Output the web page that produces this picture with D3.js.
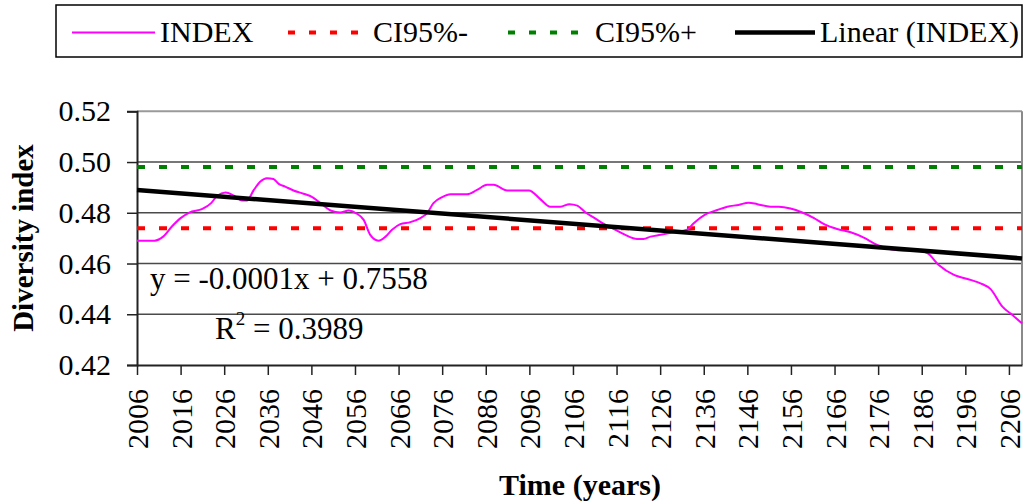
<!DOCTYPE html>
<html>
<head>
<meta charset="utf-8">
<script src="https://cdn.jsdelivr.net/npm/d3@7"></script>
</head>
<body style="margin:0;background:#fff">
<svg id="chart" width="1025" height="504" style="display:block"></svg>
<script>
// Diversity index time series (smoothed), by year
const years = [
  2006, 2010, 2012, 2014, 2016, 2018, 2021, 2023, 2024.4, 2026.3, 2028.2, 2030.1, 2031.2,
  2032.8, 2034.3, 2035.8, 2037.3, 2038.5, 2040, 2041.9, 2044.2, 2046.2, 2048.1, 2050.4,
  2052.6, 2054.6, 2056.3, 2058, 2059.5, 2061.4, 2063, 2064.5, 2066.4, 2068.7, 2071,
  2072.5, 2074, 2076, 2077.9, 2081.7, 2084, 2086.3, 2087.8, 2090.9, 2095.9, 2098.5,
  2100.8, 2103.1, 2105.2, 2107, 2108.9, 2110.8, 2113.1, 2115.4, 2118, 2120.7, 2122.2,
  2123.8, 2126.1, 2129.1, 2132.2, 2133.7, 2136.4, 2139.1, 2141.4, 2144, 2146.3, 2148.3,
  2151.3, 2153.2, 2155.9, 2158.6, 2161.3, 2163.6, 2166.6, 2169.7, 2172.7, 2175.8,
  2178.9, 2181.9, 2185, 2187.3, 2189.9, 2193.4, 2196.5, 2199.5, 2201.8, 2204.5, 2206.8, 2209
];
const indexValues = [
  0.4690, 0.4690, 0.4706, 0.4746, 0.4779, 0.4801, 0.4815, 0.4838, 0.4867, 0.4880, 0.4868, 0.4848, 0.4848,
  0.4890, 0.4923, 0.4936, 0.4933, 0.4914, 0.4903, 0.4888, 0.4875, 0.4862, 0.4838, 0.4809,
  0.4801, 0.4809, 0.4798, 0.4772, 0.4713, 0.4690, 0.4706, 0.4733, 0.4755, 0.4763, 0.4779,
  0.4798, 0.4838, 0.4862, 0.4873, 0.4873, 0.4890, 0.4910, 0.4910, 0.4888, 0.4888, 0.4854,
  0.4824, 0.4824, 0.4834, 0.4828, 0.4801, 0.4781, 0.4756, 0.4736, 0.4713, 0.4697, 0.4697,
  0.4706, 0.4713, 0.4723, 0.4733, 0.4759, 0.4794, 0.4811, 0.4824, 0.4831, 0.4840, 0.4834,
  0.4824, 0.4824, 0.4817, 0.4801, 0.4779, 0.4755, 0.4736, 0.4723, 0.4702, 0.4673,
  0.4656, 0.4651, 0.4651, 0.4641, 0.4594, 0.4555, 0.4539, 0.4522, 0.4499, 0.4430, 0.4397, 0.4364
];

// 95% confidence bounds
const ciLower = 0.4739;
const ciUpper = 0.4980;

// Linear trend of the index: y = slope * year + intercept
const trendSlope = -0.000133;
const trendIntercept = 0.7558;
const rSquared = 0.3989;

// Axes
const xDomain = [2006, 2209];
const xTicks = d3.range(2006, 2207, 10);
const yDomain = [0.42, 0.52];
const yTicks = [0.42, 0.44, 0.46, 0.48, 0.50, 0.52];

// Legend
const legendLabels = ["INDEX", "CI95%-", "CI95%+", "Linear (INDEX)"];
const legendColors = ["#ff00ff", "#ff0000", "#008000", "#000000"];

const SERIF = '"Liberation Serif", "Times New Roman", serif';
const fmt4 = d3.formatLocale({ decimal: ".", thousands: ",", grouping: [3], currency: ["", ""], minus: "-" }).format(".4f");

const svg = d3.select("#chart").style("font-family", SERIF);
const plot = { left: 137, right: 1022, top: 111.3, bottom: 365 };

const x = d3.scaleLinear().domain(xDomain).range([plot.left, plot.right]);
const y = d3.scaleLinear().domain(yDomain).range([plot.bottom, plot.top]);

// Horizontal gridlines
svg.append("g")
  .selectAll("line")
  .data(yTicks.filter(v => v > yDomain[0]))
  .join("line")
  .attr("x1", plot.left).attr("x2", plot.right)
  .attr("y1", d => y(d)).attr("y2", d => y(d))
  .attr("stroke", d => d === yDomain[1] ? "#9a9a9a" : "#4a4a4a")
  .attr("stroke-width", d => d === yDomain[1] ? 2 : 1.5);

// Right border of plot area
svg.append("line")
  .attr("x1", plot.right).attr("x2", plot.right)
  .attr("y1", plot.top).attr("y2", plot.bottom)
  .attr("stroke", "#8a8a8a").attr("stroke-width", 2);

// Y axis
const yAxis = svg.append("g")
  .attr("transform", `translate(${plot.left},0)`)
  .call(d3.axisLeft(y).tickValues(yTicks).tickFormat(d3.format(".2f")).tickSize(10).tickPadding(16));
yAxis.attr("font-family", null);
yAxis.select(".domain").attr("stroke", "#222").attr("stroke-width", 2);
yAxis.selectAll(".tick line").attr("stroke", "#222").attr("stroke-width", 1.5);
yAxis.selectAll(".tick text")
  .style("font-family", SERIF)
  .style("font-size", "30px").attr("fill", "#000");

// X axis
const xAxis = svg.append("g")
  .attr("transform", `translate(0,${plot.bottom})`)
  .call(d3.axisBottom(x).tickValues(xTicks).tickFormat(d3.format("d")).tickSize(10).tickSizeOuter(0));
xAxis.attr("font-family", null);
xAxis.select(".domain").attr("stroke", "#222").attr("stroke-width", 2);
xAxis.selectAll(".tick line").attr("stroke", "#222").attr("stroke-width", 1.5);
xAxis.selectAll(".tick text")
  .style("font-family", SERIF)
  .style("font-size", "30px").attr("fill", "#000")
  .attr("text-anchor", "end")
  .attr("transform", "rotate(-90)")
  .attr("x", -24).attr("y", 0).attr("dy", "0.35em");

// Confidence bounds
svg.append("line")
  .attr("x1", plot.left).attr("x2", plot.right)
  .attr("y1", y(ciLower)).attr("y2", y(ciLower))
  .attr("stroke", legendColors[1]).attr("stroke-width", 4)
  .attr("stroke-dasharray", "8,14");
svg.append("line")
  .attr("x1", plot.left).attr("x2", plot.right)
  .attr("y1", y(ciUpper)).attr("y2", y(ciUpper))
  .attr("stroke", legendColors[2]).attr("stroke-width", 4)
  .attr("stroke-dasharray", "8,14");

// Index series
const series = years.map((yr, i) => ({ year: yr, value: indexValues[i] }));
svg.append("path")
  .datum(series)
  .attr("fill", "none")
  .attr("stroke", legendColors[0])
  .attr("stroke-width", 2)
  .attr("d", d3.line().x(d => x(d.year)).y(d => y(d.value)).curve(d3.curveMonotoneX));

// Trend line
const trend = xDomain.map(yr => ({ year: yr, value: trendSlope * yr + trendIntercept }));
svg.append("path")
  .datum(trend)
  .attr("fill", "none")
  .attr("stroke", legendColors[3])
  .attr("stroke-width", 4.5)
  .attr("d", d3.line().x(d => x(d.year)).y(d => y(d.value)));

// Trend equation
svg.append("text")
  .attr("x", 150).attr("y", 289)
  .style("font-family", SERIF).style("font-size", "31px")
  .text(`y = ${fmt4(trendSlope)}x + ${fmt4(trendIntercept)}`);
const r2 = svg.append("text").attr("x", 215).attr("y", 339)
  .style("font-family", SERIF).style("font-size", "31px");
r2.append("tspan").text("R");
r2.append("tspan").attr("dy", -14).style("font-size", "19px").text("2");
r2.append("tspan").attr("dy", 14).text(` = ${fmt4(rSquared)}`);

// Axis titles
svg.append("text")
  .attr("transform", "translate(33,238) rotate(-90)")
  .attr("text-anchor", "middle")
  .style("font-family", SERIF).style("font-size", "29px").style("font-weight", "bold")
  .text("Diversity index");
svg.append("text")
  .attr("x", 580).attr("y", 495)
  .attr("text-anchor", "middle")
  .style("font-family", SERIF).style("font-size", "30px").style("font-weight", "bold")
  .text("Time (years)");

// Legend
svg.append("rect")
  .attr("x", 56).attr("y", 5).attr("width", 966).attr("height", 52)
  .attr("fill", "#fff").attr("stroke", "#000").attr("stroke-width", 1.5);
const legendSample = [[72, 155], [288, 367], [508, 590], [735, 815]];
const legendTextX = [160, 373, 595, 820];
const legendDash = [null, "7,14", "7,14", null];
const legendWidth = [2, 4, 4, 4.5];
legendLabels.forEach((label, i) => {
  svg.append("line")
    .attr("x1", legendSample[i][0]).attr("x2", legendSample[i][1])
    .attr("y1", 32.5).attr("y2", 32.5)
    .attr("stroke", legendColors[i]).attr("stroke-width", legendWidth[i])
    .attr("stroke-dasharray", legendDash[i]);
  svg.append("text")
    .attr("x", legendTextX[i]).attr("y", 42)
    .style("font-family", SERIF).style("font-size", "30px")
    .text(label);
});
</script>
</body>
</html>
